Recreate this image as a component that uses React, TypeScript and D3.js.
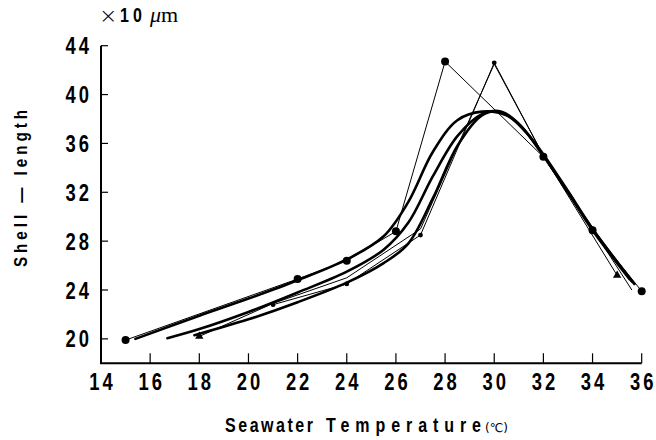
import * as d3 from 'd3';
import type { ReactNode } from 'react';

const W = 656, H = 440;

// scan geometry of the axes
const X0 = 101, X1 = 641.7, Y0 = 363.3, Y1 = 45.7;

const xTicks = [14, 16, 18, 20, 22, 24, 26, 28, 30, 32, 34, 36];
const yTicks = [20, 24, 28, 32, 36, 40, 44];

// measured points, big dots
const bigDots: [number, number][] = [
  [15, 19.9], [22, 24.9], [24, 26.4], [26, 28.8], [28, 42.7], [32, 34.9], [34, 28.9], [36, 23.9],
];
// small dots
const smallDots: [number, number][] = [
  [21, 22.8], [24, 24.5], [27, 28.5], [30, 42.6], [32, 35.0], [34, 29.0], [35.6, 24.0],
];
// triangles
const triangles: [number, number][] = [
  [18, 20.2], [21, 22.9], [24, 25.0], [27, 29.0], [30, 42.5], [32, 35.0], [35, 25.2],
];

// fitted curves
const curveA: [number, number][] = [
  [15.4, 20.0], [18, 21.9], [20, 23.3], [22, 24.8], [24, 26.5], [25.5, 28.4], [26.5, 31.2],
  [27.5, 35.3], [28.5, 37.9], [29.5, 38.6], [30.5, 38.3], [31.3, 36.9], [32, 35.1], [33, 32.1],
  [34, 29.0], [35.7, 24.5],
];
const curveB: [number, number][] = [
  [16.7, 20.05], [18, 20.8], [20, 22.2], [22, 23.8], [24, 25.5], [25.5, 27.3], [26.5, 29.5],
  [27.5, 33.3], [28.5, 36.6], [29.5, 38.4], [30.3, 38.6], [31, 37.6], [32, 35.0], [33, 32.0],
  [34, 29.0], [35.6, 24.7],
];
const curveC: [number, number][] = [
  [17.8, 20.3], [20, 21.6], [22, 23.0], [24, 24.6], [25.5, 26.2], [26.5, 27.8], [27.5, 31.5],
  [28.5, 35.8], [29.5, 38.3], [30.2, 38.6], [31, 37.6], [32, 35.0], [33, 32.0], [34, 28.9],
  [35.5, 24.9],
];

const x = d3.scaleLinear().domain([14, 36]).range([X0, X1]);
const y = d3.scaleLinear().domain([18, 44]).range([Y0, Y1]);

const straight = d3.line<[number, number]>().x(d => x(d[0])).y(d => y(d[1]));
const smooth = d3.line<[number, number]>()
  .x(d => x(d[0])).y(d => y(d[1]))
  .curve(d3.curveCatmullRom.alpha(0.5));

const tri = d3.symbol().type(d3.symbolTriangle).size(30);

const FONT = "'Liberation Sans', Arial, sans-serif";
const SX = 0.8; // squeeze, the scan uses a condensed face

// condensed text: drawn in a horizontally scaled frame
const Cond = ({ x, y, rot = 0, anchor = 'start', size, ls = 0, len, children }: {
  x: number; y: number; rot?: number; anchor?: string; size: number; ls?: number; len?: number;
  children: ReactNode;
}) => (
  <text transform={`translate(${x},${y}) rotate(${rot}) scale(${SX},1)`} textAnchor={anchor}
    fontSize={size} fontWeight="bold" letterSpacing={len ? undefined : ls / SX}
    textLength={len ? len / SX : undefined} lengthAdjust={len ? 'spacing' : undefined} fill="#000">
    {children}
  </text>
);

export default function App() {
  return (
    <svg width={W} height={H} style={{ position: 'absolute', left: 0, top: 0, background: '#fff' }}
      fontFamily={FONT}>
      {/* axes */}
      <g stroke="#000" fill="none">
        <path d={`M${X0},${Y1}V${Y0}H${X1}`} strokeWidth={2} />
        {yTicks.map(t => <line key={t} x1={X0} x2={X0 + 7} y1={y(t)} y2={y(t)} strokeWidth={1.2} />)}
        {xTicks.slice(1).map(t => <line key={t} x1={x(t)} x2={x(t)} y1={Y0} y2={Y0 - 10} strokeWidth={1.2} />)}
      </g>
      {yTicks.map(t => (
        <Cond key={t} x={92} y={y(t) + 8.5} anchor="end" size={23} ls={3}>{t}</Cond>
      ))}
      {xTicks.map(t => (
        <Cond key={t} x={x(t) + 1.5} y={390} anchor="middle" size={23} ls={3}>{t}</Cond>
      ))}

      {/* units */}
      <g fill="#000">
        <text x={99} y={23} fontSize={22} fontFamily="'DejaVu Sans'" fontWeight="200">×</text>
        <Cond x={120} y={22} size={20} len={22}>10</Cond>
        <text x={150} y={22} fontSize={22} fontFamily="'Liberation Serif', serif">
          <tspan fontStyle="italic">μ</tspan>m
        </text>
      </g>

      {/* axis titles */}
      <Cond x={27} y={267} rot={-90} size={19} len={157}>Shell — length</Cond>
      <Cond x={225} y={432} size={20} len={88}>Seawater</Cond>
      <Cond x={326} y={432} size={20} len={155}>Temperature</Cond>
      <text x={485} y={432} fontSize={12} fontFamily="'DejaVu Sans'" fill="#000">(℃)</text>

      {/* raw data polylines */}
      <g fill="none" stroke="#000" strokeWidth={1}>
        <path d={straight(bigDots) ?? ''} />
        <path d={straight(smallDots) ?? ''} />
        <path d={straight(triangles) ?? ''} />
      </g>

      {/* fitted curves */}
      <g fill="none" stroke="#000" strokeWidth={2.6} strokeLinecap="round">
        <path d={smooth(curveA) ?? ''} />
        <path d={smooth(curveB) ?? ''} />
        <path d={smooth(curveC) ?? ''} />
      </g>

      {/* markers */}
      <g fill="#000">
        {bigDots.map((d, i) => <circle key={i} cx={x(d[0])} cy={y(d[1])} r={4} />)}
        {smallDots.slice(0, -1).map((d, i) => <circle key={i} cx={x(d[0])} cy={y(d[1])} r={2.4} />)}
        {[triangles[0], triangles[triangles.length - 1]].map((d, i) => (
          <path key={i} d={tri() ?? ''} transform={`translate(${x(d[0])},${y(d[1])})`} />
        ))}
      </g>
    </svg>
  );
}
